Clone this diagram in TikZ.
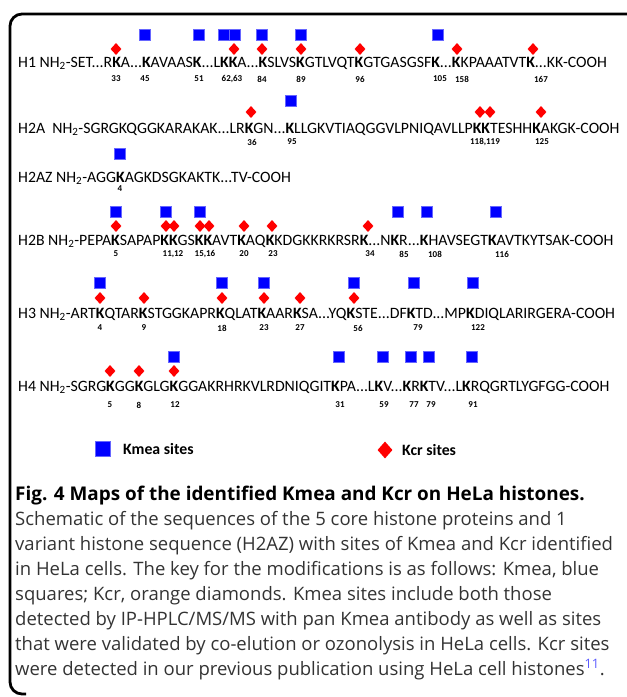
\documentclass[tikz,border=0pt]{standalone}
\usepackage{fontspec}
\setmainfont{Carlito}
\newfontfamily\capfont{Open Sans}
\usetikzlibrary{shapes.geometric,positioning}
\definecolor{kmeablue}{HTML}{0000FF}
\definecolor{kcrred}{HTML}{FF0000}
\definecolor{reflink}{HTML}{5B5BFF}
\definecolor{captext}{HTML}{333333}
\tikzset{
  seq/.style={anchor=base west, inner sep=0pt, font=\fontsize{15.8}{18}\selectfont},
  sitenum/.style={inner sep=0pt, font=\fontsize{9}{10}\selectfont\bfseries},
  kmea/.style={rectangle, fill=kmeablue, draw=kmeablue!60, line width=0.4pt,
               minimum size=11pt, inner sep=0pt},
  kcr/.style={diamond, fill=kcrred, inner sep=0pt, minimum width=11pt, minimum height=12pt},
  capline/.style={anchor=base west, inner sep=0pt, text=captext,
                  font=\capfont\fontsize{18.5}{22}\selectfont},
  frame/.style={line width=2.8pt, rounded corners=12pt},
}
\newcommand{\bk}{\textbf{K}}

\begin{document}
\begin{tikzpicture}[x=1pt, y=-1pt]
  \useasboundingbox (0,0) rectangle (627,697);
  \draw[frame] (627,14) -- (10,14) -- (10,694) -- (26,694);

  % H1
  \node[seq] (h1) at (18,67) {H1 NH\textsubscript{2}-SET...R\bk A...\bk AVAAS\bk...L\bk\bk A...\bk SLVS\bk GTLVQT\bk GTGASGSF\bk...\bk KPAAATVT\bk...KK-COOH};
  \foreach \x [count=\i] in {145,199,224,235,262,301,438} \node[kmea] (h1me\i) at (\x,35) {};
  \foreach \x [count=\i] in {116,234,262,301,360,457,533} \node[kcr] (h1cr\i) at (\x,49) {};
  \foreach \x/\n [count=\i] in {116/33,145/45,199/51,232/{62,63},262/84,301/89,360/96,440/105,462/158,541/167}
    \node[sitenum] (h1n\i) at (\x,79) {\n};

  % H2A
  \node[seq] (h2a) at (18,133) {H2A\ \ NH\textsubscript{2}-SGRGKQGGKARAKAK...LR\bk GN...\bk LLGKVTIAQGGVLPNIQAVLLP\bk\bk TESHH\bk AKGK-COOH};
  \node[kmea] (h2ame1) at (291,101) {};
  \foreach \x [count=\i] in {251,480,490,541} \node[kcr] (h2acr\i) at (\x,112) {};
  \foreach \x/\n [count=\i] in {252/36,292/95,485/{118,119},542/125}
    \node[sitenum] (h2an\i) at (\x,142) {\n};

  % H2AZ
  \node[seq] (h2az) at (18,182) {H2AZ NH\textsubscript{2}-AGG\bk AGKDSGKAKTK...TV-COOH};
  \node[kmea] (h2azme1) at (120,154) {};
  \node[sitenum] (h2azn1) at (120,189) {4};

  % H2B
  \node[seq] (h2b) at (18,245) {H2B NH\textsubscript{2}-PEPA\bk SAPAP\bk\bk GS\bk\bk AVT\bk AQ\bk KDGKKRKRSR\bk...N\bk R...\bk HAVSEGT\bk AVTKYTSAK-COOH};
  \foreach \x [count=\i] in {116,166,200,398,427,496} \node[kmea] (h2bme\i) at (\x,212) {};
  \foreach \x [count=\i] in {116,166,174,200,209,244,272,368} \node[kcr] (h2bcr\i) at (\x,226) {};
  \foreach \x/\n [count=\i] in {116/5,173/{11,12},205/{15,16},244/20,273/23,370/34,404/85,435/108,502/116}
    \node[sitenum] (h2bn\i) at (\x,254) {\n};

  % H3
  \node[seq] (h3) at (18,318) {H3 NH\textsubscript{2}-ART\bk QTAR\bk STGGKAPR\bk QLAT\bk AAR\bk SA...YQ\bk STE...DF\bk TD...MP\bk DIQLARIRGERA-COOH};
  \foreach \x [count=\i] in {100,222,264,354,414,473} \node[kmea] (h3me\i) at (\x,283) {};
  \foreach \x [count=\i] in {100,144,222,264,300,354} \node[kcr] (h3cr\i) at (\x,298) {};
  \foreach \x/\n [count=\i] in {100/4,144/9,222/18,264/23,300/27,358/56,418/79,478/122}
    \node[sitenum] (h3n\i) at (\x,328) {\n};

  % H4
  \node[seq] (h4) at (18,391) {H4 NH\textsubscript{2}-SGRG\bk GG\bk GLG\bk GGAKRHRKVLRDNIQGIT\bk PA...L\bk V...\bk R\bk TV...L\bk RQGRTLYGFGG-COOH};
  \foreach \x [count=\i] in {174,339,383,411,429,472} \node[kmea] (h4me\i) at (\x,357) {};
  \foreach \x [count=\i] in {110,139,174} \node[kcr] (h4cr\i) at (\x,371) {};
  \foreach \x/\n [count=\i] in {110/5,139/8,175/12,340/31,384/59,414/77,431/79,473/91}
    \node[sitenum] (h4n\i) at (\x,405) {\n};

  % legend
  \node[kmea, minimum size=15pt] (keyme) at (103,449) {};
  \node[anchor=west, inner sep=0pt, font=\fontsize{15.8}{18}\selectfont\bfseries] (keymetext) at (123,449) {Kmea sites};
  \node[kcr, minimum width=15pt, minimum height=17pt] (keycr) at (385,450) {};
  \node[anchor=west, inner sep=0pt, font=\fontsize{15.8}{18}\selectfont\bfseries] (keycrtext) at (402,450) {Kcr sites};

  % caption
  \node[capline, text=black, font=\capfont\fontsize{18.9}{22}\selectfont\bfseries] (cap0) at (15,500)
    {Fig. 4 Maps of the identified Kmea and Kcr on HeLa histones.};
  \foreach \t [count=\i] in {
      {Schematic of the sequences of the 5 core histone proteins and 1},
      {variant histone sequence (H2AZ) with sites of Kmea and Kcr identified},
      {in HeLa cells. The key for the modifications is as follows: Kmea, blue},
      {squares; Kcr, orange diamonds. Kmea sites include both those},
      {detected by IP-HPLC/MS/MS with pan Kmea antibody as well as sites},
      {that were validated by co-elution or ozonolysis in HeLa cells. Kcr sites},
      {were detected in our previous publication using HeLa cell histones\textsuperscript{\textcolor{reflink}{11}}.}}
    \node[capline] (cap\i) at (15,500+25*\i) {\t};
\end{tikzpicture}
\end{document}
